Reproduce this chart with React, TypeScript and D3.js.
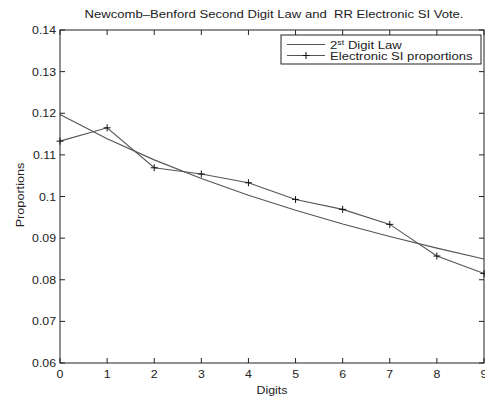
import React from 'react'
import * as d3 from 'd3'

const digits = [0, 1, 2, 3, 4, 5, 6, 7, 8, 9]
const benfordLaw = [0.1197, 0.1139, 0.1088, 0.1043, 0.1003, 0.0967, 0.0934, 0.0904, 0.0876, 0.085]
const electronicSI = [0.1133, 0.1165, 0.1069, 0.1054, 0.1033, 0.0993, 0.0969, 0.0933, 0.0857, 0.0815]
const yTicks = [0.06, 0.07, 0.08, 0.09, 0.1, 0.11, 0.12, 0.13, 0.14]
const yTickLabels = ['0.06', '0.07', '0.08', '0.09', '0.1', '0.11', '0.12', '0.13', '0.14']

const W = 485
const H = 399
const margin = { top: 30, right: 1, bottom: 36, left: 60 }
const FONT = 'Liberation Sans, Arial, Helvetica, sans-serif'
const SX = 1.12
const TICK = 5

// stretched text, the source figure was scaled wider than tall
function T({ x, y, anchor = 'start', size = 11, children }: any) {
  return (
    <text
      transform={`translate(${x},${y}) scale(${SX},1)`}
      textAnchor={anchor}
      fontSize={size}
      fontFamily={FONT}
      fill="#222"
    >
      {children}
    </text>
  )
}

export default function App() {
  const x = d3.scaleLinear().domain([0, 9]).range([margin.left, W - margin.right])
  const y = d3.scaleLinear().domain([0.06, 0.14]).range([H - margin.bottom, margin.top])

  const line = d3.line<number>().x((_, i) => x(digits[i])).y(d => y(d))

  const x0 = x.range()[0]
  const x1 = x.range()[1]
  const yB = y.range()[0]
  const yT = y.range()[1]

  const lg = { x: 281, y: 35, w: 200, h: 29 }

  return (
    <svg width={W} height={H} style={{ position: 'absolute', left: 0, top: 0, background: '#fff' }}>
      <rect width={W} height={H} fill="#fff" />
      <T x={274} y={17.5} anchor="middle" size={11.7}>
        {'Newcomb–Benford Second Digit Law and\u00a0 RR Electronic SI Vote.'}
      </T>

      {/* data lines */}
      <path d={line(benfordLaw) || ''} fill="none" stroke="#555" strokeWidth={1.1} />
      <path d={line(electronicSI) || ''} fill="none" stroke="#555" strokeWidth={1.1} />
      {electronicSI.map((v, i) => (
        <g key={i} transform={`translate(${x(digits[i])},${y(v)})`} stroke="#111" strokeWidth={1}>
          <line x1={-3.5} x2={3.5} y1={0} y2={0} />
          <line x1={0} x2={0} y1={-3.5} y2={3.5} />
        </g>
      ))}

      {/* axes box */}
      <rect x={x0} y={yT} width={x1 - x0} height={yB - yT} fill="none" stroke="#222" strokeWidth={1} />
      {digits.map(d => (
        <g key={'xt' + d}>
          <line x1={x(d)} x2={x(d)} y1={yB} y2={yB - TICK} stroke="#222" />
          <line x1={x(d)} x2={x(d)} y1={yT} y2={yT + TICK} stroke="#222" />
          <T x={x(d)} y={378} anchor="middle">{String(d)}</T>
        </g>
      ))}
      {yTicks.map((v, i) => (
        <g key={'yt' + i}>
          <line x1={x0} x2={x0 + TICK} y1={y(v)} y2={y(v)} stroke="#222" />
          <line x1={x1} x2={x1 - TICK} y1={y(v)} y2={y(v)} stroke="#222" />
          <T x={56} y={y(v) + 4} anchor="end">{yTickLabels[i]}</T>
        </g>
      ))}

      <T x={272} y={394} anchor="middle">Digits</T>
      <text
        transform="translate(24,195) rotate(-90) scale(1.15,1)"
        textAnchor="middle"
        fontSize={11}
        fontFamily={FONT}
        fill="#222"
      >
        Proportions
      </text>

      {/* legend */}
      <rect x={lg.x} y={lg.y} width={lg.w} height={lg.h} fill="#fff" stroke="#222" strokeWidth={1} />
      <line x1={287} x2={325} y1={44.5} y2={44.5} stroke="#555" strokeWidth={1.1} />
      <T x={330} y={48.5} size={11.7}>
        2<tspan fontSize={8} dy={-4}>st</tspan><tspan dy={4}> Digit Law</tspan>
      </T>
      <line x1={287} x2={325} y1={55.5} y2={55.5} stroke="#555" strokeWidth={1.1} />
      <g stroke="#111">
        <line x1={302.5} x2={309.5} y1={55.5} y2={55.5} />
        <line x1={306} x2={306} y1={52} y2={59} />
      </g>
      <T x={330} y={59.5} size={11.7}>Electronic SI proportions</T>
    </svg>
  )
}
